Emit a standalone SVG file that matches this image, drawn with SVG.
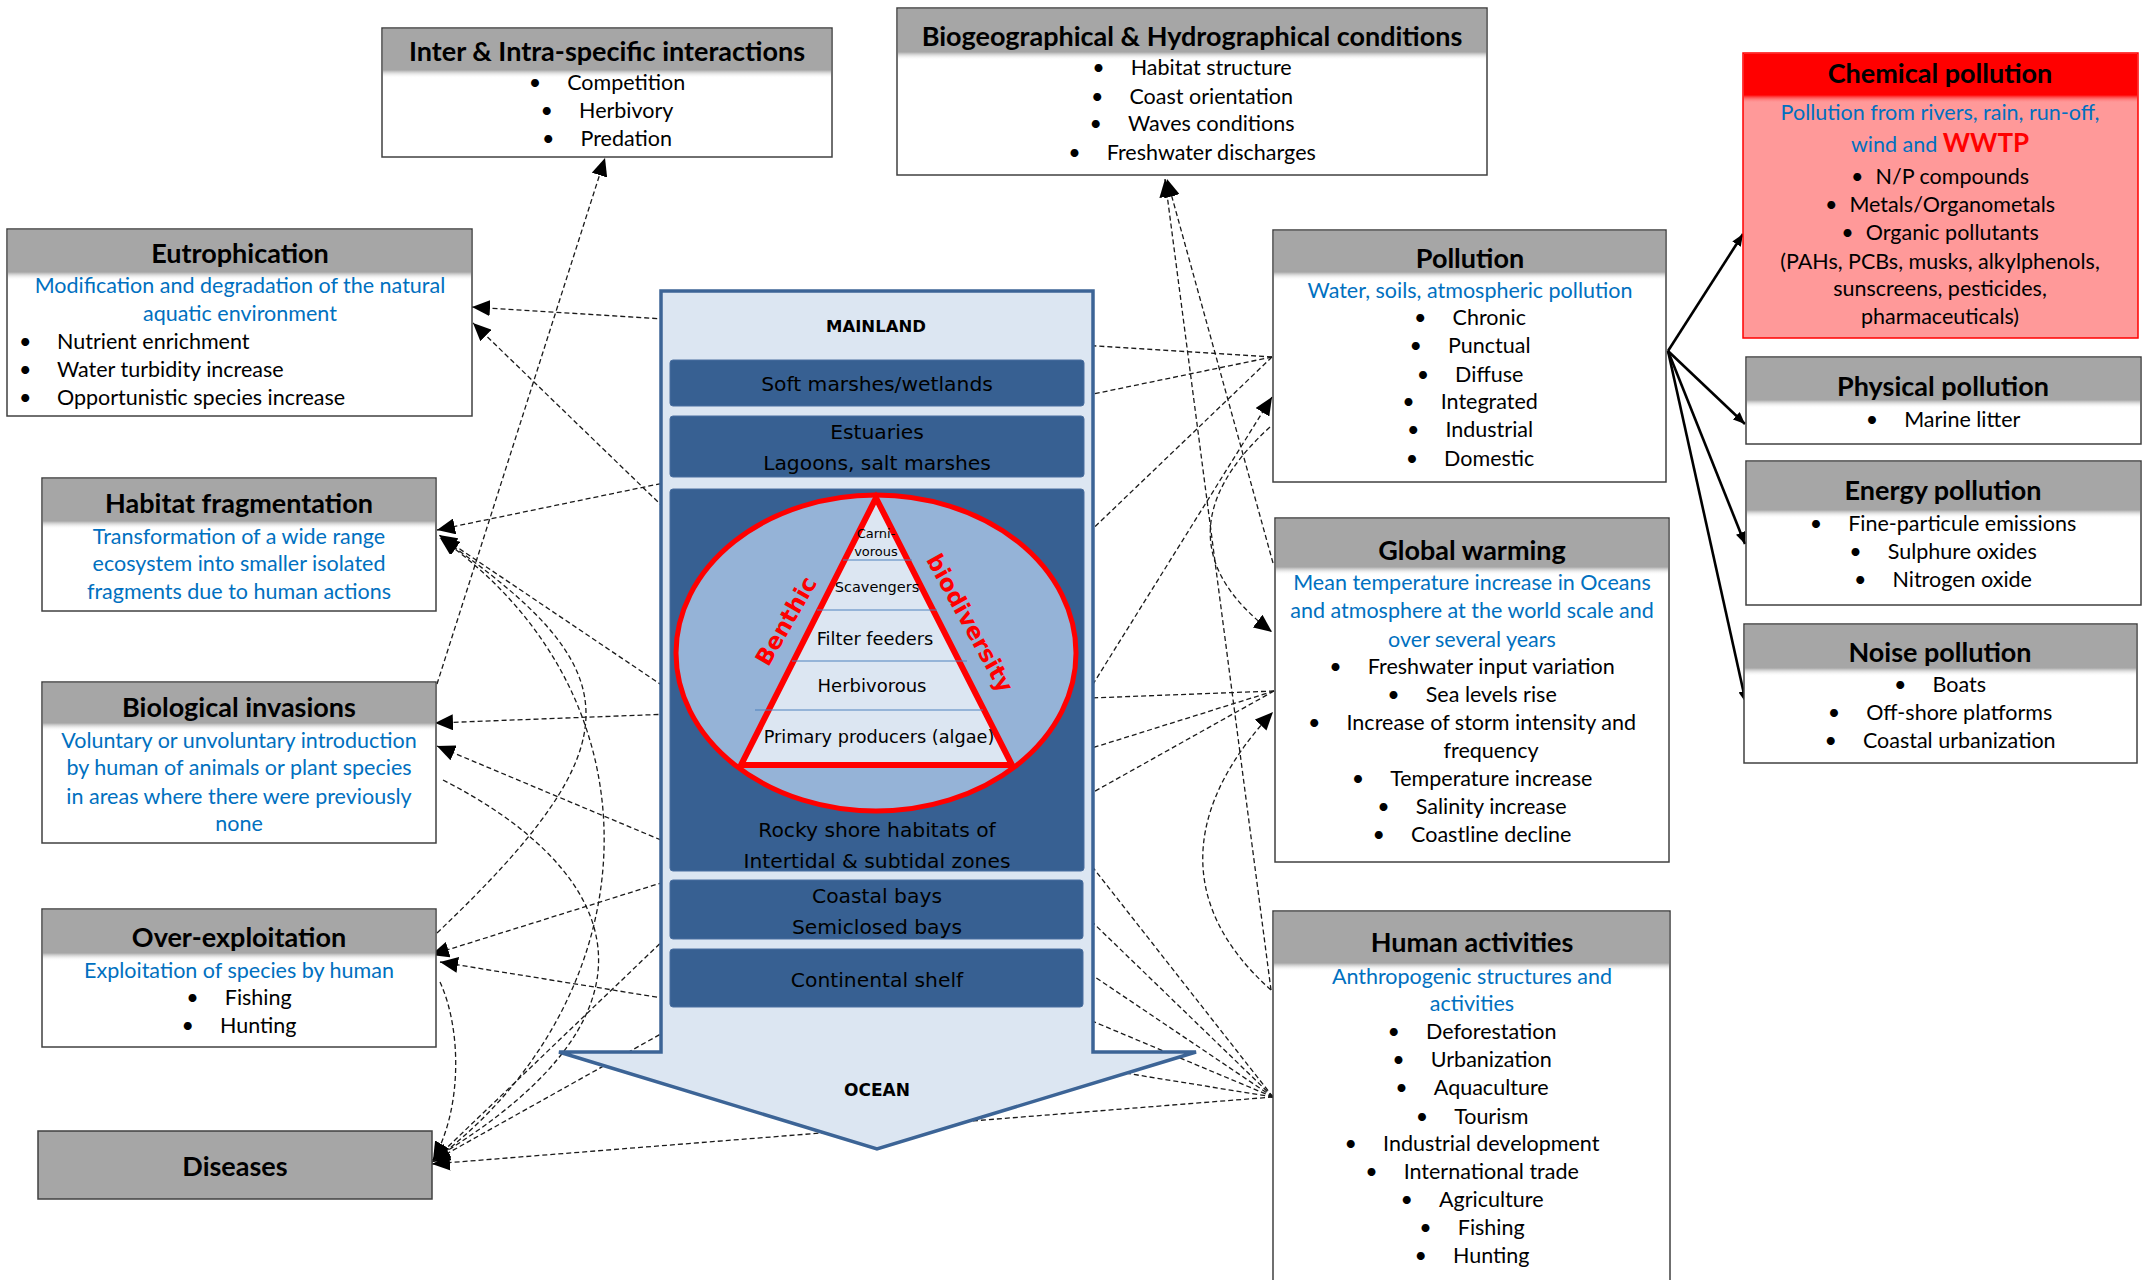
<svg xmlns="http://www.w3.org/2000/svg" width="2143" height="1280" viewBox="0 0 2143 1280">
  <style>
    .box { fill: #ffffff; stroke: #404040; stroke-width: 1.5; }
    .hdr { fill: #a6a6a6; }
    .ttl { font-family: Lato, "Liberation Sans", sans-serif; font-weight: bold; font-size: 27px; text-anchor: middle; fill: #000; }
    .tx { font-family: Lato, "Liberation Sans", sans-serif; font-size: 21.5px; fill: #000; }
    .c { text-anchor: middle; }
    .bl { fill: #0070c0; }
    .band { fill: #376092; stroke: #4a6fa0; stroke-width: 1; }
    .bt { font-family: "DejaVu Sans", Verdana, sans-serif; font-size: 20.3px; fill: #000; text-anchor: middle; }
    .pt { font-family: "DejaVu Sans", Verdana, sans-serif; fill: #000; text-anchor: middle; }
    .rt { font-family: "DejaVu Sans", Verdana, sans-serif; font-weight: bold; font-size: 23px; fill: #ff0000; text-anchor: middle; dominant-baseline: central; }
    .dash { fill: none; stroke: #1a1a1a; stroke-width: 1.3; stroke-dasharray: 5 3; }
    .arr { marker-end: url(#ah); }
    .solid { fill: none; stroke: #000; stroke-width: 2.6; marker-end: url(#sa); }
    .div { stroke: #4f81bd; stroke-width: 1.2; }
  </style>
  <defs>
    <marker id="ah" markerUnits="userSpaceOnUse" markerWidth="19" markerHeight="16" refX="18" refY="8" orient="auto">
      <path d="M0,0 L18,8 L0,16 Z" fill="#000"/>
    </marker>
    <marker id="sa" markerUnits="userSpaceOnUse" markerWidth="13" markerHeight="10" refX="12" refY="5" orient="auto">
      <path d="M0,0 L12,5 L0,10 Z" fill="#000"/>
    </marker>
    <linearGradient id="fade" x1="0" y1="0" x2="0" y2="1">
      <stop offset="0" stop-color="#a6a6a6"/>
      <stop offset="1" stop-color="#ffffff" stop-opacity="0"/>
    </linearGradient>
    <linearGradient id="fadeRed" x1="0" y1="0" x2="0" y2="1">
      <stop offset="0" stop-color="#ff0000"/>
      <stop offset="1" stop-color="#ff9999" stop-opacity="0"/>
    </linearGradient>
  </defs>

  <rect width="2143" height="1280" fill="#ffffff"/>

  <!-- connectors -->
  <g id="connectors">
    <!-- from Pollution -->
    <path class="dash arr" d="M1272,357 L472,307"/>
    <path class="dash arr" d="M1272,357 L437,530"/>
    <path class="dash arr" d="M1272,357 L432,1162"/>
    <path class="dash arr" d="M1080,705 L1272,397"/>
    <path class="dash arr" d="M1270,427 C1190,500 1190,570 1272,632"/>
    <!-- from Global warming -->
    <path class="dash arr" d="M1274,691 L435,723"/>
    <path class="dash arr" d="M1274,691 L431,955"/>
    <path class="dash arr" d="M1274,691 L432,1162"/>
    <path class="dash arr" d="M1273,563 L1167,179"/>
    <!-- from Human activities -->
    <path class="dash arr" d="M1271,990 C1170,900 1190,800 1273,712"/>
    <path class="dash arr" d="M1271,990 L1165,179"/>
    <path class="dash" d="M1273,1097 L905,628"/>
    <path class="dash arr" d="M1273,1097 L473,323"/>
    <path class="dash arr" d="M1273,1097 L439,535"/>
    <path class="dash arr" d="M1273,1097 L437,746"/>
    <path class="dash arr" d="M1273,1097 L440,962"/>
    <path class="dash arr" d="M1273,1097 L432,1164"/>
    <!-- between threat boxes -->
    <path class="dash arr" d="M437,684 L605,158"/>
    <path class="dash arr" d="M437,933 C640,740 630,670 441,538"/>
    <path class="dash arr" d="M432,1162 C650,1000 670,700 440,538"/>
    <path class="dash arr" d="M443,780 C600,860 700,1000 432,1160"/>
    <path class="dash arr" d="M440,982 C462,1030 462,1110 433,1160"/>
    <!-- pollution types -->
    <path class="solid" d="M1668,351 L1743,234"/>
    <path class="solid" d="M1668,351 L1745,424"/>
    <path class="solid" d="M1668,351 L1745,544"/>
    <path class="solid" d="M1668,351 L1746,703"/>
  </g>

  <!-- mainland to ocean arrow with habitat zones -->
  <g id="n-zones">
    <polygon points="661,291 1093,291 1093,1052 1196,1052 877,1149 559,1052 661,1052" fill="#dce6f2" stroke="#3c6496" stroke-width="3.5"/>
    <text class="pt" x="876" y="332" font-size="16.5" font-weight="bold">MAINLAND</text>
    <rect class="band" x="670" y="360" width="414" height="46" rx="3"/>
    <text class="bt" x="877" y="391">Soft marshes/wetlands</text>
    <rect class="band" x="670" y="416" width="414" height="61" rx="3"/>
    <text class="bt" x="877" y="439">Estuaries</text>
    <text class="bt" x="877" y="470">Lagoons, salt marshes</text>
    <rect class="band" x="670" y="489" width="414" height="382" rx="3"/>
    <ellipse cx="876" cy="653" rx="200" ry="158" fill="#95b3d7" stroke="#ff0000" stroke-width="5"/>
    <polygon points="876,498 1012,765 741,765" fill="#dce6f2" stroke="#ff0000" stroke-width="6" stroke-linejoin="miter"/>
    <line class="div" x1="843" y1="560" x2="912" y2="560"/>
    <line class="div" x1="817" y1="610" x2="937" y2="610"/>
    <line class="div" x1="792" y1="661" x2="967" y2="661"/>
    <line class="div" x1="755" y1="710" x2="983" y2="710"/>
    <text class="pt" x="876" y="538" font-size="13">Carni-</text>
    <text class="pt" x="876" y="556" font-size="13">vorous</text>
    <text class="pt" x="877" y="592" font-size="14.5">Scavengers</text>
    <text class="pt" x="875" y="645" font-size="17.8">Filter feeders</text>
    <text class="pt" x="872" y="692" font-size="18">Herbivorous</text>
    <text class="pt" x="879" y="743" font-size="17.7">Primary producers (algae)</text>
    <text class="rt" transform="translate(786,621) rotate(-60)">Benthic</text>
    <text class="rt" transform="translate(970,623) rotate(61)">biodiversity</text>
    <text class="bt" x="877" y="837">Rocky shore habitats of</text>
    <text class="bt" x="877" y="868">Intertidal &amp; subtidal zones</text>
    <rect class="band" x="670" y="880" width="413" height="59" rx="3"/>
    <text class="bt" x="877" y="903">Coastal bays</text>
    <text class="bt" x="877" y="934">Semiclosed bays</text>
    <rect class="band" x="670" y="949" width="413" height="58" rx="3"/>
    <text class="bt" x="877" y="987">Continental shelf</text>
    <text class="pt" x="877" y="1096" font-size="17" font-weight="bold">OCEAN</text>
  </g>

  <!-- threat boxes, left -->
  <g id="n-inter">
    <rect class="box" x="382" y="28" width="450" height="129"/>
    <rect class="hdr" x="383" y="29" width="448" height="41"/>
    <rect fill="url(#fade)" x="383" y="70" width="448" height="8"/>
    <text class="ttl" x="607" y="61">Inter &amp; Intra-specific interactions</text>
    <text class="tx c" x="607" y="90">•<tspan dx="26">Competition</tspan></text>
    <text class="tx c" x="607" y="118">•<tspan dx="26">Herbivory</tspan></text>
    <text class="tx c" x="607" y="146">•<tspan dx="26">Predation</tspan></text>
  </g>

  <g id="n-eutrophication">
    <rect class="box" x="7" y="229" width="465" height="187"/>
    <rect class="hdr" x="8" y="230" width="463" height="42"/>
    <rect fill="url(#fade)" x="8" y="272" width="463" height="8"/>
    <text class="ttl" x="240" y="263">Eutrophication</text>
    <text class="tx c bl" x="240" y="293">Modification and degradation of the natural</text>
    <text class="tx c bl" x="240" y="321">aquatic environment</text>
    <text class="tx" x="19" y="349">•</text><text class="tx" x="57" y="349">Nutrient enrichment</text>
    <text class="tx" x="19" y="377">•</text><text class="tx" x="57" y="377">Water turbidity increase</text>
    <text class="tx" x="19" y="405">•</text><text class="tx" x="57" y="405">Opportunistic species increase</text>
  </g>

  <g id="n-habitat">
    <rect class="box" x="42" y="478" width="394" height="133"/>
    <rect class="hdr" x="43" y="479" width="392" height="42"/>
    <rect fill="url(#fade)" x="43" y="521" width="392" height="8"/>
    <text class="ttl" x="239" y="513">Habitat fragmentation</text>
    <text class="tx c bl" x="239" y="544">Transformation of a wide range</text>
    <text class="tx c bl" x="239" y="571">ecosystem into smaller isolated</text>
    <text class="tx c bl" x="239" y="599">fragments due to human actions</text>
  </g>

  <g id="n-invasions">
    <rect class="box" x="42" y="682" width="394" height="161"/>
    <rect class="hdr" x="43" y="683" width="392" height="40"/>
    <rect fill="url(#fade)" x="43" y="723" width="392" height="8"/>
    <text class="ttl" x="239" y="717">Biological invasions</text>
    <text class="tx c bl" x="239" y="748">Voluntary or unvoluntary introduction</text>
    <text class="tx c bl" x="239" y="775">by human of animals or plant species</text>
    <text class="tx c bl" x="239" y="804">in areas where there were previously</text>
    <text class="tx c bl" x="239" y="831">none</text>
  </g>

  <g id="n-overexploitation">
    <rect class="box" x="42" y="909" width="394" height="138"/>
    <rect class="hdr" x="43" y="910" width="392" height="43"/>
    <rect fill="url(#fade)" x="43" y="953" width="392" height="8"/>
    <text class="ttl" x="239" y="947">Over-exploitation</text>
    <text class="tx c bl" x="239" y="978">Exploitation of species by human</text>
    <text class="tx c" x="239" y="1005">•<tspan dx="26">Fishing</tspan></text>
    <text class="tx c" x="239" y="1033">•<tspan dx="26">Hunting</tspan></text>
  </g>

  <g id="n-diseases">
    <rect x="38" y="1131" width="394" height="68" fill="#a6a6a6" stroke="#404040" stroke-width="1.5"/>
    <text class="ttl" x="235" y="1176">Diseases</text>
  </g>

  <!-- driver boxes, top and right -->
  <g id="n-biohydro">
    <rect class="box" x="897" y="8" width="590" height="167"/>
    <rect class="hdr" x="898" y="9" width="588" height="43"/>
    <rect fill="url(#fade)" x="898" y="52" width="588" height="8"/>
    <text class="ttl" x="1192" y="46">Biogeographical &amp; Hydrographical conditions</text>
    <text class="tx c" x="1192" y="75">•<tspan dx="26">Habitat structure</tspan></text>
    <text class="tx c" x="1192" y="104">•<tspan dx="26">Coast orientation</tspan></text>
    <text class="tx c" x="1192" y="131">•<tspan dx="26">Waves conditions</tspan></text>
    <text class="tx c" x="1192" y="160">•<tspan dx="26">Freshwater discharges</tspan></text>
  </g>

  <g id="n-pollution">
    <rect class="box" x="1273" y="230" width="393" height="252"/>
    <rect class="hdr" x="1274" y="231" width="391" height="41"/>
    <rect fill="url(#fade)" x="1274" y="272" width="391" height="8"/>
    <text class="ttl" x="1470" y="268">Pollution</text>
    <text class="tx c bl" x="1470" y="298">Water, soils, atmospheric pollution</text>
    <text class="tx c" x="1470" y="325">•<tspan dx="26">Chronic</tspan></text>
    <text class="tx c" x="1470" y="353">•<tspan dx="26">Punctual</tspan></text>
    <text class="tx c" x="1470" y="382">•<tspan dx="26">Diffuse</tspan></text>
    <text class="tx c" x="1470" y="409">•<tspan dx="26">Integrated</tspan></text>
    <text class="tx c" x="1470" y="437">•<tspan dx="26">Industrial</tspan></text>
    <text class="tx c" x="1470" y="466">•<tspan dx="26">Domestic</tspan></text>
  </g>

  <g id="n-warming">
    <rect class="box" x="1275" y="518" width="394" height="344"/>
    <rect class="hdr" x="1276" y="519" width="392" height="48"/>
    <rect fill="url(#fade)" x="1276" y="567" width="392" height="8"/>
    <text class="ttl" x="1472" y="560">Global warming</text>
    <text class="tx c bl" x="1472" y="590">Mean temperature increase in Oceans</text>
    <text class="tx c bl" x="1472" y="618">and atmosphere at the world scale and</text>
    <text class="tx c bl" x="1472" y="647">over several years</text>
    <text class="tx c" x="1472" y="674">•<tspan dx="26">Freshwater input variation</tspan></text>
    <text class="tx c" x="1472" y="702">•<tspan dx="26">Sea levels rise</tspan></text>
    <text class="tx c" x="1472" y="730">•<tspan dx="26">Increase of storm intensity and</tspan></text>
    <text class="tx c" x="1491" y="758">frequency</text>
    <text class="tx c" x="1472" y="786">•<tspan dx="26">Temperature increase</tspan></text>
    <text class="tx c" x="1472" y="814">•<tspan dx="26">Salinity increase</tspan></text>
    <text class="tx c" x="1472" y="842">•<tspan dx="26">Coastline decline</tspan></text>
  </g>

  <g id="n-human">
    <rect class="box" x="1273" y="911" width="397" height="390"/>
    <rect class="hdr" x="1274" y="912" width="395" height="51"/>
    <rect fill="url(#fade)" x="1274" y="963" width="395" height="8"/>
    <text class="ttl" x="1472" y="952">Human activities</text>
    <text class="tx c bl" x="1472" y="984">Anthropogenic structures and</text>
    <text class="tx c bl" x="1472" y="1011">activities</text>
    <text class="tx c" x="1472" y="1039">•<tspan dx="26">Deforestation</tspan></text>
    <text class="tx c" x="1472" y="1067">•<tspan dx="26">Urbanization</tspan></text>
    <text class="tx c" x="1472" y="1095">•<tspan dx="26">Aquaculture</tspan></text>
    <text class="tx c" x="1472" y="1124">•<tspan dx="26">Tourism</tspan></text>
    <text class="tx c" x="1472" y="1151">•<tspan dx="26">Industrial development</tspan></text>
    <text class="tx c" x="1472" y="1179">•<tspan dx="26">International trade</tspan></text>
    <text class="tx c" x="1472" y="1207">•<tspan dx="26">Agriculture</tspan></text>
    <text class="tx c" x="1472" y="1235">•<tspan dx="26">Fishing</tspan></text>
    <text class="tx c" x="1472" y="1263">•<tspan dx="26">Hunting</tspan></text>
  </g>

  <!-- pollution categories -->
  <g id="n-chemical">
    <rect x="1743" y="53" width="395" height="285" fill="#ff9999" stroke="#ff0000" stroke-width="1.5"/>
    <rect x="1744" y="54" width="393" height="41" fill="#ff0000"/>
    <rect fill="url(#fadeRed)" x="1744" y="95" width="393" height="8"/>
    <text class="ttl" x="1940" y="83">Chemical pollution</text>
    <text class="tx c bl" x="1940" y="120">Pollution from rivers, rain, run-off,</text>
    <text class="tx c bl" x="1940" y="152">wind and <tspan fill="#ff0000" font-weight="bold" font-size="26">WWTP</tspan></text>
    <text class="tx c" x="1940" y="184">•<tspan dx="12">N/P compounds</tspan></text>
    <text class="tx c" x="1940" y="212">•<tspan dx="12">Metals/Organometals</tspan></text>
    <text class="tx c" x="1940" y="240">•<tspan dx="12">Organic pollutants</tspan></text>
    <text class="tx c" x="1940" y="269">(PAHs, PCBs, musks, alkylphenols,</text>
    <text class="tx c" x="1940" y="296">sunscreens, pesticides,</text>
    <text class="tx c" x="1940" y="324">pharmaceuticals)</text>
  </g>

  <g id="n-physical">
    <rect class="box" x="1746" y="357" width="395" height="87"/>
    <rect class="hdr" x="1747" y="358" width="393" height="42"/>
    <rect fill="url(#fade)" x="1747" y="400" width="393" height="8"/>
    <text class="ttl" x="1943" y="396">Physical pollution</text>
    <text class="tx c" x="1943" y="427">•<tspan dx="26">Marine litter</tspan></text>
  </g>

  <g id="n-energy">
    <rect class="box" x="1746" y="461" width="395" height="144"/>
    <rect class="hdr" x="1747" y="462" width="393" height="48"/>
    <rect fill="url(#fade)" x="1747" y="510" width="393" height="8"/>
    <text class="ttl" x="1943" y="500">Energy pollution</text>
    <text class="tx c" x="1943" y="531">•<tspan dx="26">Fine-particule emissions</tspan></text>
    <text class="tx c" x="1943" y="559">•<tspan dx="26">Sulphure oxides</tspan></text>
    <text class="tx c" x="1943" y="587">•<tspan dx="26">Nitrogen oxide</tspan></text>
  </g>

  <g id="n-noise">
    <rect class="box" x="1744" y="624" width="393" height="139"/>
    <rect class="hdr" x="1745" y="625" width="391" height="43"/>
    <rect fill="url(#fade)" x="1745" y="668" width="391" height="8"/>
    <text class="ttl" x="1940" y="662">Noise pollution</text>
    <text class="tx c" x="1940" y="692">•<tspan dx="26">Boats</tspan></text>
    <text class="tx c" x="1940" y="720">•<tspan dx="26">Off-shore platforms</tspan></text>
    <text class="tx c" x="1940" y="748">•<tspan dx="26">Coastal urbanization</tspan></text>
  </g>
</svg>
